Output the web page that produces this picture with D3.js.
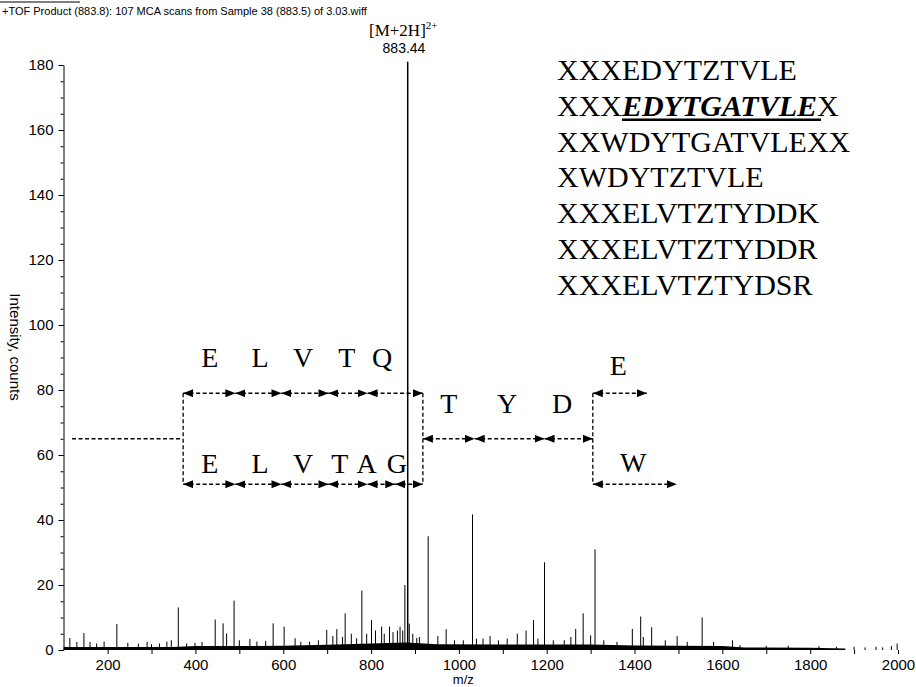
<!DOCTYPE html>
<html>
<head>
<meta charset="utf-8">
<script src="https://cdn.jsdelivr.net/npm/d3@7"></script>
<style>
  body { margin: 0; background: #fff; }
  svg { display: block; }
  .sans { font-family: "Liberation Sans", Arial, sans-serif; }
  .serif { font-family: "Liberation Serif", "Times New Roman", serif; }
</style>
</head>
<body>
<div id="chart"></div>
<script>
// spectrum peaks (m/z, counts)
const peakMz = [114, 130, 146, 160, 175, 192, 221, 246, 270, 290, 300, 318, 335, 345, 361, 380, 399, 415, 445, 463,
  471, 488, 500, 524, 540, 560, 577, 602, 627, 640, 660, 680, 699, 713, 722, 735, 741, 755, 767, 779,
  790, 801, 810, 824, 830, 842, 850, 860, 866, 872, 877, 883.44, 887, 895, 904, 910, 930, 952, 971, 990,
  1010, 1031, 1040, 1055, 1071, 1090, 1110, 1133, 1153, 1170, 1180, 1195, 1215, 1240, 1255, 1266, 1283, 1300, 1310, 1330,
  1360, 1395, 1414, 1420, 1439, 1470, 1497, 1520, 1554, 1580, 1623, 1640, 1700, 1750, 1820, 1860,
  1900, 1925, 1950, 1965, 1985, 1998];
const peakCounts = [3.7, 2.5, 5.2, 2.5, 2, 2.6, 8, 2.2, 2, 2.5, 1.8, 2, 2.6, 3, 13.1, 2, 2.2, 2.5, 9.4, 8.2,
  5.1, 15.2, 3, 3.4, 2.6, 2.8, 8.2, 7.2, 3.6, 2.5, 2.5, 3, 6.2, 4.3, 6.4, 4, 11.3, 5, 3.6, 18.3,
  5, 9.2, 6, 7.2, 5, 7.2, 5.5, 6, 7.2, 6, 20, 181, 8.1, 5, 3.7, 4, 35, 4.3, 6.4, 3,
  3, 41.7, 3.5, 3.5, 4.3, 3, 3.5, 5, 6, 9.2, 3.5, 27, 3, 3, 4, 6.5, 11.3, 4.5, 31, 3,
  2.5, 6.5, 10.3, 4, 7, 3, 4.3, 2.5, 10, 2.5, 3, 1.5, 1.3, 1.3, 1.2, 1,
  1, 0.8, 1, 0.8, 1.2, 2];

// noise floor along the baseline
const noiseMz = [100, 350, 400, 600, 700, 800, 880, 950, 1100, 1300, 1400, 1600, 1650, 1800, 1880];
const noiseLevel = [0.9, 0.9, 1.2, 1.3, 1.6, 2.0, 2.3, 1.8, 1.7, 1.7, 1.4, 1.2, 0.8, 0.7, 0.5];

// fragment ladders (m/z boundaries, level in counts)
const topBounds = [372, 491, 596, 703, 792, 918];
const topLetters = ["E", "L", "V", "T", "Q"];
const topLetterMz = [433, 547, 645, 745, 825];
const bottomBounds = [372, 491, 596, 703, 792, 855, 918];
const bottomLetters = ["E", "L", "V", "T", "A", "G"];
const bottomLetterMz = [433, 547, 645, 729, 790, 859];
const midBounds = [918, 1036, 1195, 1305];
const midLetters = ["T", "Y", "D"];
const midLetterMz = [977, 1110, 1235];
const rightTopBounds = [1305, 1428];
const rightBottomBounds = [1305, 1496];

const sequences = ["XXXEDYTZTVLE", "XXXEDYTGATVLEX", "XXWDYTGATVLEXX", "XWDYTZTVLE",
  "XXXELVTZTYDDK", "XXXELVTZTYDDR", "XXXELVTZTYDSR"];

const yTicks = [0, 20, 40, 60, 80, 100, 120, 140, 160, 180];
const xTicks = [200, 400, 600, 800, 1000, 1200, 1400, 1600, 1800, 2000];

const width = 916, height = 687;
const svg = d3.select("#chart").append("svg")
  .attr("width", width)
  .attr("height", height);

const x = d3.scaleLinear().domain([100, 2000]).range([63.7, 898]);
const y = d3.scaleLinear().domain([0, 180]).range([650, 65]);

// title
svg.append("line")
  .attr("x1", 0).attr("x2", 80).attr("y1", 2).attr("y2", 2)
  .attr("stroke", "#000").attr("stroke-width", 1);
svg.append("text")
  .attr("class", "sans")
  .attr("x", 2).attr("y", 15)
  .attr("font-size", 11)
  .text("+TOF Product (883.8): 107 MCA scans from Sample 38 (883.5) of 3.03.wiff");

// y axis
const yMinor = svg.append("g")
  .attr("transform", "translate(63.5,0)")
  .call(d3.axisLeft(y).tickValues(d3.range(0, 181, 5)).tickSize(3).tickSizeOuter(0).tickFormat(""));
yMinor.select(".domain").remove();

const yAxis = svg.append("g")
  .attr("class", "sans")
  .attr("transform", "translate(63.5,0)")
  .call(d3.axisLeft(y).tickValues(yTicks).tickSize(5).tickSizeOuter(0).tickPadding(5));
yAxis.selectAll("text").attr("font-size", 15).attr("font-family", null);

svg.append("text")
  .attr("class", "sans")
  .attr("transform", "translate(10,347) rotate(90)")
  .attr("text-anchor", "middle")
  .attr("font-size", 15)
  .text("Intensity, counts");

// x axis
const xAxis = svg.append("g")
  .attr("class", "sans")
  .attr("transform", `translate(0,${y(0)})`)
  .call(d3.axisBottom(x).tickValues(d3.range(200, 2001, 100)).tickSize(4).tickPadding(5)
    .tickFormat(d => xTicks.includes(d) ? d : ""));
xAxis.select(".domain").remove();
xAxis.selectAll("text").attr("font-size", 15).attr("font-family", null);

svg.append("text")
  .attr("class", "sans")
  .attr("x", x(1010)).attr("y", 684)
  .attr("text-anchor", "middle")
  .attr("font-size", 13)
  .text("m/z");

// noise floor
svg.append("path")
  .datum(d3.zip(noiseMz, noiseLevel))
  .attr("fill", "#000")
  .attr("d", d3.area().x(d => x(d[0])).y0(y(0)).y1(d => y(d[1])));

// peaks
svg.append("g")
  .selectAll("line")
  .data(d3.zip(peakMz, peakCounts))
  .join("line")
  .attr("x1", d => x(d[0])).attr("x2", d => x(d[0]))
  .attr("y1", y(0)).attr("y2", d => y(d[1]))
  .attr("stroke", "#000")
  .attr("stroke-width", d => d[1] > 100 ? 1.5 : 1);

// precursor label
const prec = svg.append("text")
  .attr("class", "serif")
  .attr("x", 369).attr("y", 36)
  .attr("font-size", 17);
prec.append("tspan").text("[M+2H]");
prec.append("tspan").attr("dy", -7).attr("font-size", 11).text("2+");
svg.append("text")
  .attr("class", "sans")
  .attr("x", 404).attr("y", 53)
  .attr("text-anchor", "middle")
  .attr("font-size", 14)
  .text("883.44");

// arrow heads
svg.append("defs").append("marker")
  .attr("id", "head")
  .attr("viewBox", "0 0 10 8")
  .attr("refX", 10).attr("refY", 4)
  .attr("markerWidth", 10).attr("markerHeight", 8)
  .attr("markerUnits", "userSpaceOnUse")
  .attr("orient", "auto-start-reverse")
  .append("path")
  .attr("d", "M0,0L10,4L0,8Z")
  .attr("fill", "#000");

const dash = "4,2.5";

function ladder(bounds, level) {
  svg.append("g")
    .selectAll("line")
    .data(d3.pairs(bounds))
    .join("line")
    .attr("x1", d => x(d[0])).attr("x2", d => x(d[1]))
    .attr("y1", y(level)).attr("y2", y(level))
    .attr("stroke", "#000")
    .attr("stroke-width", 1.3)
    .attr("stroke-dasharray", dash)
    .attr("marker-start", "url(#head)")
    .attr("marker-end", "url(#head)");
}

function letters(list, mzs, level) {
  svg.append("g")
    .selectAll("text")
    .data(list)
    .join("text")
    .attr("class", "serif")
    .attr("x", (d, i) => x(mzs[i]))
    .attr("y", y(level))
    .attr("text-anchor", "middle")
    .attr("font-size", 28)
    .text(d => d);
}

ladder(topBounds, 79);
ladder(bottomBounds, 51);
ladder(midBounds, 65);
ladder(rightTopBounds, 79);
ladder(rightBottomBounds, 51);

letters(topLetters, topLetterMz, 87.1);
letters(bottomLetters, bottomLetterMz, 54.5);
letters(midLetters, midLetterMz, 72.9);
letters(["E"], [1363], 84.6);
letters(["W"], [1397], 54.8);

// connecting dashed lines
[372, 918, 1305].forEach(m => {
  svg.append("line")
    .attr("x1", x(m)).attr("x2", x(m))
    .attr("y1", y(79)).attr("y2", y(51))
    .attr("stroke", "#000").attr("stroke-width", 1.3)
    .attr("stroke-dasharray", dash);
});
svg.append("line")
  .attr("x1", x(119)).attr("x2", x(368))
  .attr("y1", y(65)).attr("y2", y(65))
  .attr("stroke", "#000").attr("stroke-width", 1.3)
  .attr("stroke-dasharray", dash);

// candidate sequences
const seq = svg.append("g").attr("class", "serif").attr("font-size", 30);
sequences.forEach((s, i) => {
  const t = seq.append("text").attr("x", 557).attr("y", 80 + i * 35.8);
  if (i === 1) {
    t.append("tspan").text(s.slice(0, 3));
    t.append("tspan").attr("font-weight", "bold").attr("font-style", "italic").text(s.slice(3, 13));
    t.append("tspan").text(s.slice(13));
    const node = t.node();
    const start = 557 + node.getSubStringLength(0, 3);
    const len = node.getSubStringLength(3, 10);
    seq.append("line")
      .attr("x1", start).attr("x2", start + len + 4)
      .attr("y1", 80 + i * 35.8 + 4).attr("y2", 80 + i * 35.8 + 4)
      .attr("stroke", "#000").attr("stroke-width", 2.5);
  } else {
    t.text(s);
  }
});
</script>
</body>
</html>
